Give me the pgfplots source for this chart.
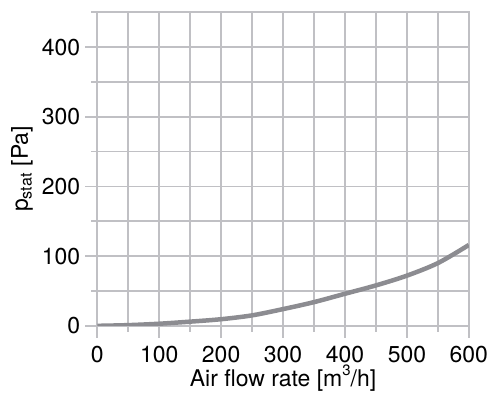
\documentclass[border=0pt]{standalone}
\usepackage{fontspec}
\setmainfont{TeX Gyre Heros}
\usepackage{pgfplots}
\pgfplotsset{compat=1.18}
\definecolor{gridc}{RGB}{192,192,196}
\definecolor{curvec}{RGB}{140,140,145}
\begin{document}
\begin{tikzpicture}
\begin{axis}[
 scale only axis, width=372pt, height=314pt,
 xmin=0,xmax=600,ymin=0,ymax=450,
 xtick={0,100,...,600}, ytick={0,100,...,400},
 minor xtick={50,150,...,550}, minor ytick={50,150,...,450},
 grid=both,
 grid style={gridc, line width=1.6pt},
 minor grid style={gridc, line width=1.6pt},
 axis line style={gridc, line width=1.6pt},
 tick pos=left, tick align=outside,
 major tick length=12pt, minor tick length=6pt,
 every tick/.style={gridc, line width=1.6pt},
 minor tick style={gridc, line width=1.6pt},
 major tick style={gridc, line width=1.6pt},
 ticklabel style={font=\fontsize{23}{27}\selectfont, text=black, inner sep=1pt},
 /pgf/number format/assume math mode=true,
 xticklabel style={yshift=-7pt},
 yticklabel style={xshift=-4pt},
 title={\mbox{}},
 title style={inner sep=0pt, text height=6pt, text depth=0pt},
 xlabel={Air flow rate [m\raisebox{11pt}{\fontsize{15}{15}\selectfont 3}/h]},
 ylabel={p\textsubscript{stat} [Pa]},
 label style={font=\fontsize{23}{27}\selectfont, text=black},
 xlabel style={inner sep=0pt, yshift=-1.5pt, text depth=10pt},
 ylabel style={inner sep=0pt, text height=28pt, yshift=7.6pt},
]
\addplot[curvec, line width=4.5pt, smooth] coordinates {
(0,0) (50,1) (100,3) (150,6) (200,9.5) (250,15) (300,24) (350,34) (400,46) (450,58) (500,72) (550,90) (600,116)
};
\end{axis}
\end{tikzpicture}
\end{document}
